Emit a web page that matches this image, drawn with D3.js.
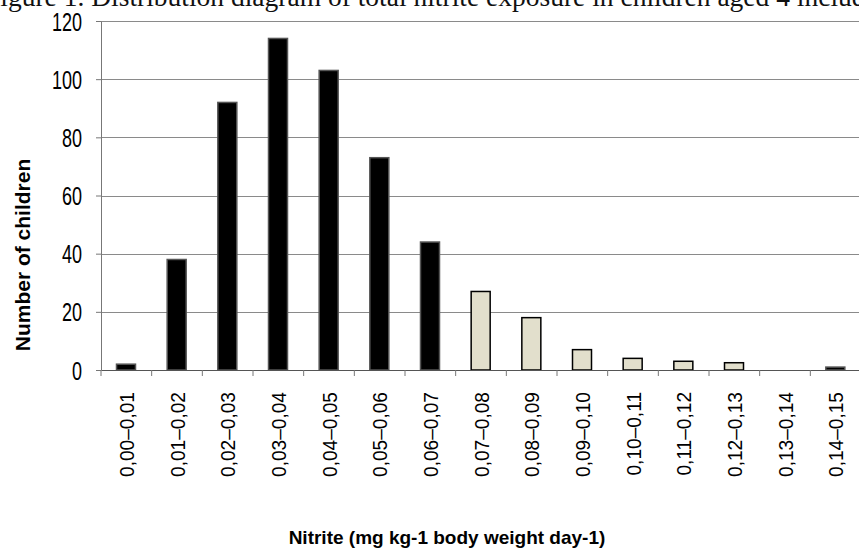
<!DOCTYPE html>
<html lang="en">
<head>
    <meta charset="utf-8">
    <title>Nitrite exposure</title>
    <style>
        body { margin: 0; background: #fff; }
        svg { display: block; }
    </style>
</head>
<body>
    <svg width="859" height="550"></svg>
    <script src="https://cdn.jsdelivr.net/npm/d3@7"></script>
    <script>
        // bins of nitrite intake and the number of children in each
        const categories = ["0,00–0,01", "0,01–0,02", "0,02–0,03", "0,03–0,04", "0,04–0,05",
            "0,05–0,06", "0,06–0,07", "0,07–0,08", "0,08–0,09", "0,09–0,10",
            "0,10–0,11", "0,11–0,12", "0,12–0,13", "0,13–0,14", "0,14–0,15"];
        const counts = [2, 38, 92, 114, 103, 73, 44, 27, 18, 7, 4, 3, 2.5, 0, 1];
        // which bins are drawn light (above the reference level)
        const highlighted = [false, false, false, false, false, false, false,
            true, true, true, true, true, true, true, false];
        const yTicks = [0, 20, 40, 60, 80, 100, 120];

        const svg = d3.select("svg");
        const mLeft = 101, mRight = 861, mTop = 21, mBottom = 370;

        const x = d3.scaleBand()
            .domain(categories)
            .range([mLeft, mRight]);

        const y = d3.scaleLinear()
            .domain([0, 120])
            .range([mBottom, mTop]);

        // caption cut off at the top of the picture
        svg.append("text")
            .attr("x", -15)
            .attr("y", 6)
            .attr("font-family", "Liberation Serif, Times New Roman, serif")
            .attr("font-size", 27.5)
            .attr("fill", "#111")
            .text("Figure 1. Distribution diagram of total nitrite exposure in children aged 4 includes");

        // gridlines
        svg.append("g")
            .selectAll("line")
            .data(yTicks.filter(d => d > 0))
            .join("line")
            .attr("x1", mLeft)
            .attr("x2", 859)
            .attr("y1", d => Math.round(y(d)) + 0.5)
            .attr("y2", d => Math.round(y(d)) + 0.5)
            .attr("stroke", "#8a8a8a")
            .attr("stroke-width", 1.2);

        // y axis (condensed digits like the original)
        const yScaleX = 0.72;
        const yAxis = svg.append("g")
            .attr("transform", `translate(${mLeft},0)`)
            .call(d3.axisLeft(y).tickValues(yTicks).tickSize(5).tickSizeOuter(0));
        yAxis.select(".domain").attr("stroke", "#777");
        yAxis.selectAll(".tick line").attr("stroke", "#777");
        yAxis.selectAll(".tick text")
            .attr("transform", `scale(${yScaleX},1)`)
            .attr("x", -19 / yScaleX)
            .attr("dy", "0.36em")
            .attr("font-family", "Liberation Sans, Arial, sans-serif")
            .attr("font-size", 25)
            .attr("fill", "#000");

        // bars
        svg.append("g")
            .selectAll("rect")
            .data(categories)
            .join("rect")
            .attr("x", d => x(d) + 15.5)
            .attr("width", 19)
            .attr("y", (d, i) => y(counts[i]))
            .attr("height", (d, i) => mBottom - y(counts[i]))
            .attr("fill", (d, i) => highlighted[i] ? "#e2dfcc" : "#000")
            .attr("stroke", (d, i) => highlighted[i] ? "#000" : "#555")
            .attr("stroke-width", 1.5);

        // x axis
        const xScaleX = 0.91;
        const xAxis = svg.append("g")
            .attr("transform", `translate(0,${mBottom})`)
            .call(d3.axisBottom(x).tickSize(0).tickSizeOuter(0));
        xAxis.select(".domain").attr("stroke", "#555").attr("stroke-width", 1.2);
        xAxis.selectAll(".tick text")
            .attr("transform", `rotate(-90) scale(${xScaleX},1)`)
            .attr("x", -22 / xScaleX)
            .attr("y", 0)
            .attr("dy", "0.36em")
            .attr("text-anchor", "end")
            .attr("font-family", "Liberation Sans, Arial, sans-serif")
            .attr("font-size", 21)
            .attr("fill", "#000");

        // tick marks between the bins
        svg.append("g")
            .selectAll("line")
            .data(categories)
            .join("line")
            .attr("x1", d => x(d))
            .attr("x2", d => x(d))
            .attr("y1", mBottom)
            .attr("y2", mBottom + 6)
            .attr("stroke", "#777");

        // axis titles
        svg.append("text")
            .attr("transform", "translate(30,255) rotate(-90)")
            .attr("text-anchor", "middle")
            .attr("font-family", "Liberation Sans, Arial, sans-serif")
            .attr("font-weight", "bold")
            .attr("font-size", 21)
            .text("Number of children");

        svg.append("text")
            .attr("x", 447)
            .attr("y", 544)
            .attr("text-anchor", "middle")
            .attr("font-family", "Liberation Sans, Arial, sans-serif")
            .attr("font-weight", "bold")
            .attr("font-size", 19)
            .text("Nitrite (mg kg-1 body weight day-1)");
    </script>
</body>
</html>
